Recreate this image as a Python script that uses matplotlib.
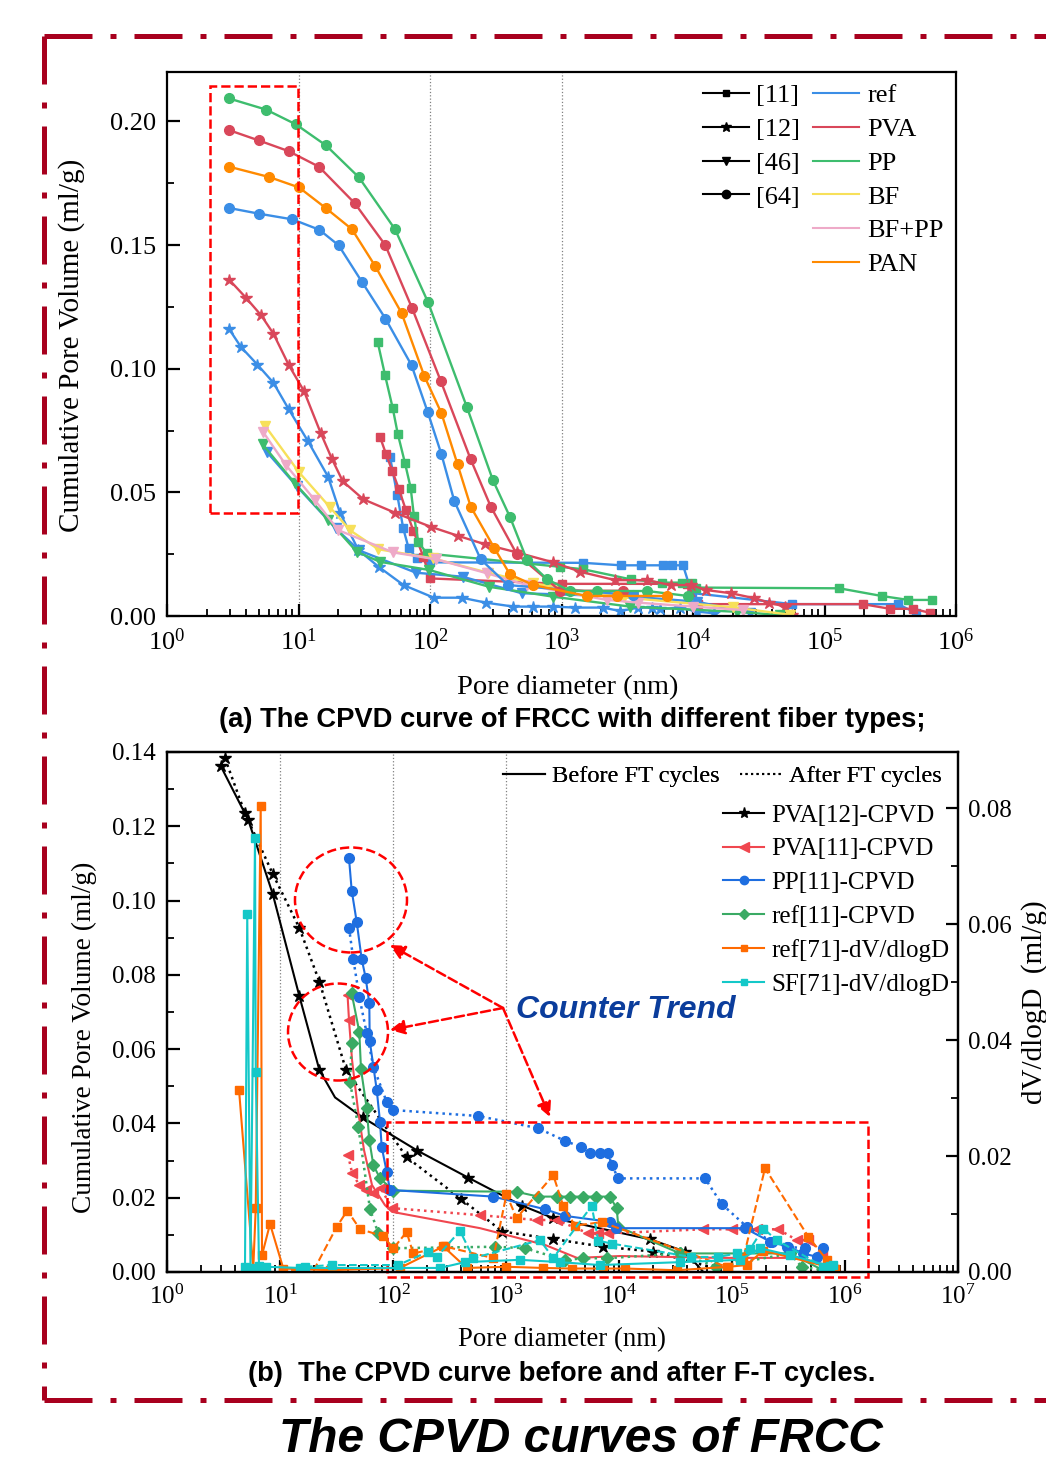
import numpy as np
import matplotlib.pyplot as plt
from matplotlib.lines import Line2D
from matplotlib.patches import Rectangle, Ellipse
from matplotlib.ticker import LogLocator, MultipleLocator, NullFormatter, FormatStrFormatter

plt.rcParams['font.family'] = ['Liberation Serif', 'DejaVu Serif']
plt.rcParams['mathtext.fontset'] = 'stix'

# ---------------- (a) data: pore diameter (nm), cumulative pore volume (ml/g)
ref11_d = [49.6, 56.4, 62.6, 68.8, 79.2, 100, 1465, 2840, 4000, 5870, 6900, 8400, 9770, 57000, 363000, 500000]
ref11_v = [0.0644, 0.0489, 0.0354, 0.0274, 0.0233, 0.0217, 0.0215, 0.0205, 0.0205, 0.0205, 0.0205, 0.0205, 0.0093, 0.0048, 0.0048, 0.0011]
pva11_d = [41.7, 46.3, 51.7, 58.1, 65.6, 74.7, 89.0, 100, 1000, 9000, 11000, 196000, 315000, 471000, 634000]
pva11_v = [0.0724, 0.0655, 0.0586, 0.0512, 0.0428, 0.0345, 0.024, 0.0152, 0.013, 0.013, 0.0048, 0.0048, 0.0029, 0.0029, 0.0013]
pp11_d = [40.0, 45.5, 52.0, 56.8, 64.5, 71.3, 75.5, 81.5, 94.4, 974, 1465, 3380, 5790, 8210, 9770, 10500, 129700, 272000, 434000, 654000]
pp11_v = [0.1108, 0.0974, 0.0842, 0.0738, 0.0619, 0.0518, 0.0404, 0.030, 0.0253, 0.0199, 0.0189, 0.0148, 0.0135, 0.0135, 0.0135, 0.0115, 0.0112, 0.0081, 0.0065, 0.0065]

ref12_d = [2.97, 3.65, 4.86, 6.43, 8.43, 11.8, 16.8, 20.7, 28.5, 40.7, 62.9, 107, 174, 266, 431, 602, 867, 1260, 2070, 2790, 3850, 4870, 5620, 7970, 10700, 14400]
ref12_v = [0.116, 0.1088, 0.1017, 0.0944, 0.0836, 0.0707, 0.0563, 0.0417, 0.0267, 0.0199, 0.0125, 0.0074, 0.0074, 0.0054, 0.0038, 0.0038, 0.0038, 0.0034, 0.0034, 0.002, 0.0034, 0.0034, 0.0028, 0.0034, 0.0018, 0.0011]
pva12_d = [2.97, 3.97, 5.2, 6.44, 8.45, 11.0, 14.7, 18.0, 21.7, 31.1, 54.5, 101, 164, 262, 458, 867, 1388, 2560, 4470, 6770, 9640, 12600, 19500, 29300, 37900, 50100, 56900]
pva12_v = [0.136, 0.1288, 0.1216, 0.1142, 0.1014, 0.091, 0.0742, 0.0634, 0.0545, 0.0472, 0.0417, 0.0361, 0.0324, 0.029, 0.0257, 0.0217, 0.0179, 0.0145, 0.0145, 0.0125, 0.0125, 0.0105, 0.0092, 0.0072, 0.0054, 0.0038, 0.0004]

ref46_d = [5.73, 9.69, 19.2, 29.0, 78.3, 177, 498, 3520, 10700, 27100]
ref46_v = [0.0664, 0.0525, 0.0354, 0.0265, 0.0175, 0.0159, 0.0092, 0.0078, 0.0058, 0.0012]
pp46_d = [5.34, 9.4, 16.9, 27.7, 41.7, 98.8, 282, 866, 3320, 21500, 45900]
pp46_v = [0.0694, 0.0536, 0.0388, 0.026, 0.0219, 0.0186, 0.0118, 0.0078, 0.0038, 0.0017, 0.0004]
bf46_d = [5.59, 10.1, 17.4, 24.6, 40.4, 105, 277, 611, 3000, 20000, 55000]
bf46_v = [0.0768, 0.0581, 0.0439, 0.0347, 0.027, 0.0233, 0.0175, 0.0132, 0.0075, 0.0035, 0.0005]
bfpp46_d = [5.40, 8.03, 13.3, 20.1, 52.6, 112, 270, 544, 2210, 3840, 10000, 24200]
bfpp46_v = [0.0743, 0.061, 0.0469, 0.0347, 0.0257, 0.0229, 0.0173, 0.0125, 0.0065, 0.0054, 0.0038, 0.0024]

ref64_d = [2.97, 5.0, 9.0, 14.4, 20.2, 30.3, 45.8, 72.4, 96.3, 122, 153, 243, 392, 3480]
ref64_v = [0.165, 0.1627, 0.1604, 0.1562, 0.1499, 0.1352, 0.1203, 0.1014, 0.0823, 0.0655, 0.0465, 0.0229, 0.0125, 0.0085]
pva64_d = [2.96, 5.0, 8.4, 14.3, 26.8, 45.7, 72.8, 121, 204, 290, 456, 975, 2930]
pva64_v = [0.1965, 0.1923, 0.188, 0.1817, 0.1669, 0.150, 0.1247, 0.0949, 0.0633, 0.0442, 0.0251, 0.0102, 0.0102]
pp64_d = [2.96, 5.66, 9.57, 16.2, 28.8, 54.2, 96.6, 191, 301, 406, 547, 776, 1161, 1862, 4467, 9160]
pp64_v = [0.2093, 0.2048, 0.1988, 0.1903, 0.1774, 0.1564, 0.1269, 0.0844, 0.0549, 0.040, 0.0226, 0.0149, 0.0101, 0.0101, 0.0101, 0.0081]
pan64_d = [2.97, 6.0, 10.1, 16.1, 25.5, 38.4, 60.8, 90.4, 122, 162, 204, 309, 406, 612, 1560, 2640, 6330]
pan64_v = [0.1817, 0.1775, 0.1733, 0.165, 0.1564, 0.1414, 0.1225, 0.0971, 0.0821, 0.0613, 0.0442, 0.0274, 0.0168, 0.0125, 0.0081, 0.0081, 0.0081]

# ---------------- (b) data, before / after freeze-thaw cycles
pva12_bef_d = [2.99, 5.24, 8.62, 14.8, 22.3, 30.7, 53.9, 164, 463, 1378, 2620, 18800, 38400, 55400]
pva12_bef_v = [0.1362, 0.1217, 0.1018, 0.0744, 0.0544, 0.047, 0.0416, 0.0327, 0.0254, 0.0179, 0.0145, 0.0088, 0.0055, 0.0001]
pva12_aft_d = [3.26, 4.90, 8.62, 14.8, 22.3, 38.4, 132, 400, 927, 2590, 7260, 20100, 86800]
pva12_aft_v = [0.1383, 0.1235, 0.1072, 0.0927, 0.0782, 0.0544, 0.0309, 0.0197, 0.0109, 0.0089, 0.0068, 0.0055, 0.0003]

pva11_bef_d = [39.6, 40.8, 43.4, 49.0, 55.4, 65.2, 84.9, 98.0, 589, 2210, 4250, 10200, 78300, 400000, 736000]
pva11_bef_v = [0.0746, 0.0678, 0.0571, 0.0436, 0.0328, 0.0234, 0.018, 0.0162, 0.0118, 0.0073, 0.0038, 0.0043, 0.0038, 0.0038, 0.0016]
pva11_aft_d = [40.0, 43.4, 50.3, 57.7, 67.0, 77.8, 98.0, 589, 1870, 2810, 5350, 6560, 8040, 55700, 99300, 166000, 257000, 374000, 473000, 622000]
pva11_aft_v = [0.0315, 0.0267, 0.0234, 0.0221, 0.0213, 0.0226, 0.0172, 0.0153, 0.014, 0.014, 0.0104, 0.0104, 0.0104, 0.0115, 0.0115, 0.0115, 0.0115, 0.0086, 0.0086, 0.0055]

pp11_bef_d = [40.8, 43.1, 47.7, 52.8, 57.3, 61.7, 62.2, 71.8, 76.7, 79.4, 87.9, 94.0, 772, 2210, 3330, 8320, 9400, 130000, 217000, 315000, 427000, 562000, 643000]
pp11_bef_v = [0.1114, 0.1027, 0.0943, 0.0843, 0.0792, 0.0723, 0.0623, 0.049, 0.0405, 0.0337, 0.027, 0.0221, 0.0203, 0.0169, 0.0151, 0.0135, 0.0118, 0.0118, 0.0082, 0.0068, 0.005, 0.0041, 0.0064]
pp11_aft_d = [40.8, 44.5, 50.3, 58.5, 67.0, 87.9, 101, 569, 1930, 3330, 4580, 5540, 6790, 8040, 8620, 9860, 57700, 81100, 135000, 224000, 305000, 443000]
pp11_aft_v = [0.0927, 0.0843, 0.0741, 0.0643, 0.0553, 0.0458, 0.0436, 0.042, 0.0387, 0.0353, 0.0337, 0.032, 0.032, 0.032, 0.0288, 0.0252, 0.0252, 0.0183, 0.0122, 0.0082, 0.0068, 0.0064]

ref11_bef_d = [43.1, 50.3, 52.1, 58.5, 61.7, 67.0, 76.7, 101, 1240, 1930, 2810, 3690, 4800, 6260, 8320, 9550, 9860, 34700, 326000, 638000]
ref11_bef_v = [0.075, 0.0647, 0.0546, 0.0441, 0.0355, 0.0288, 0.0252, 0.0219, 0.0216, 0.0203, 0.0203, 0.0203, 0.0203, 0.0203, 0.0203, 0.0171, 0.0122, 0.005, 0.005, 0.0005]
ref11_aft_d = [43.1, 41.6, 49.3, 62.6, 74.1, 101, 800, 1470, 3330, 4830, 7780, 34700, 72800, 326000, 414000, 638000]
ref11_aft_v = [0.0616, 0.0512, 0.0391, 0.0169, 0.0104, 0.0064, 0.0068, 0.0064, 0.0032, 0.0037, 0.0037, 0.005, 0.0014, 0.005, 0.0014, 0.0005]

# dV/dlogD curves (right axis)
ref71_bef_d = [4.34, 5.80, 6.10, 6.75, 6.93, 8.16, 10.7, 27.7, 115, 279, 449, 1010, 2120, 3810, 7260, 11300, 32400, 92700, 135000, 189000, 817000]
ref71_bef_v = [0.0314, 0.0006, 0.011, 0.0804, 0.0029, 0.0083, 0.0006, 0.0003, 0.0007, 0.0044, 0.0007, 0.0009, 0.0007, 0.0006, 0.0006, 0.0006, 0.0003, 0.0009, 0.0012, 0.0037, 0.0006]
ref71_aft_d = [10.0, 20.0, 31.8, 39.4, 51.0, 81.1, 101, 132, 151, 288, 772, 1010, 1240, 2620, 3210, 4080, 7030, 89800, 126000, 196000, 473000, 689000, 817000]
ref71_aft_v = [0.0003, 0.0004, 0.0078, 0.0106, 0.0074, 0.0062, 0.0041, 0.0069, 0.0032, 0.0044, 0.0024, 0.0134, 0.0093, 0.0167, 0.0114, 0.008, 0.0086, 0.0009, 0.0024, 0.0179, 0.0061, 0.0021, 0.0006]
sf71_bef_d = [4.90, 5.13, 5.48, 6.01, 6.10, 6.52, 7.52, 15.0, 261, 434, 1330, 3000, 6790, 34700, 118000, 177000, 326000, 736000]
sf71_bef_v = [0.0009, 0.0618, 0.0007, 0.0749, 0.0345, 0.001, 0.0009, 0.0007, 0.0007, 0.0017, 0.0021, 0.0017, 0.0012, 0.0017, 0.0021, 0.0041, 0.0029, 0.001]
sf71_aft_d = [16.6, 28.7, 111, 205, 244, 392, 514, 2000, 2620, 5730, 6560, 8610, 43800, 75700, 110000, 144000, 189000, 249000, 643000, 787000]
sf71_aft_v = [0.0009, 0.0012, 0.0012, 0.0035, 0.0026, 0.0071, 0.0024, 0.0055, 0.0024, 0.0114, 0.0054, 0.0049, 0.0026, 0.0026, 0.0032, 0.0039, 0.0075, 0.0055, 0.0009, 0.0012]

c_ref, c_pva, c_pp = '#3b8ee6', '#d9475a', '#3ebd6e'
c_bf, c_bfpp, c_pan = '#f7e05a', '#eeaac8', '#ff8a00'
b_pva, b_pp, b_ref = '#f0474f', '#1e6ee0', '#3aaa64'
b_or, b_cy = '#ff6a00', '#14c8c8'
frame_red = '#a8001e'

fig = plt.figure(figsize=(10.46, 14.6), dpi=100)
ax1 = fig.add_axes([167/1046, 1-616/1460, 789/1046, 544/1460])
ax2 = fig.add_axes([167/1046, 1-1272/1460, 791/1046, 520/1460])


def log_axis(ax, hi, fs):
    ax.set_xscale('log')
    ax.set_xlim(1, hi)
    ax.xaxis.set_major_locator(LogLocator(base=10, numticks=20))
    ax.xaxis.set_minor_locator(LogLocator(base=10, subs=np.arange(2, 10), numticks=100))
    ax.xaxis.set_minor_formatter(NullFormatter())
    ax.tick_params(which='both', direction='in', labelsize=fs, top=False)
    ax.tick_params(which='major', length=9, width=1.6)
    ax.tick_params(which='minor', length=5, width=1.3)
    ax.tick_params(axis='x', pad=9)
    ax.tick_params(axis='y', pad=8)
    for s in ax.spines.values():
        s.set_linewidth(1.6)
    for v in [10, 100, 1000]:
        ax.axvline(v, color='grey', ls=':', lw=0.9, zorder=0)


# ---------------- panel (a)
log_axis(ax1, 1e6, 19)
ax1.set_ylim(0, 0.22)
ax1.yaxis.set_major_locator(MultipleLocator(0.05))
ax1.yaxis.set_minor_locator(MultipleLocator(0.025))
ax1.yaxis.set_major_formatter(FormatStrFormatter('%.2f'))

top_series = [
    (ref11_d, ref11_v, c_ref, 's', 6), (pva11_d, pva11_v, c_pva, 's', 6), (pp11_d, pp11_v, c_pp, 's', 6),
    (ref12_d, ref12_v, c_ref, '*', 9), (pva12_d, pva12_v, c_pva, '*', 9),
    (ref46_d, ref46_v, c_ref, 'v', 7), (pp46_d, pp46_v, c_pp, 'v', 7),
    (bf46_d, bf46_v, c_bf, 'v', 7), (bfpp46_d, bfpp46_v, c_bfpp, 'v', 7),
    (ref64_d, ref64_v, c_ref, 'o', 7), (pva64_d, pva64_v, c_pva, 'o', 7),
    (pp64_d, pp64_v, c_pp, 'o', 7), (pan64_d, pan64_v, c_pan, 'o', 7),
]
for d, v, c, m, ms in top_series:
    ax1.plot(d, v, color=c, marker=m, ms=ms, mec=c, lw=1.7)

ax1.add_patch(Rectangle((0.0545, 0.1893), 0.1115, 0.785, transform=ax1.transAxes,
                        fill=False, ec='red', ls='--', lw=1.8, zorder=5))

src_handles = [Line2D([], [], color='k', marker=m, ms=ms, lw=1.5) for m, ms in
               [('s', 5), ('*', 7), ('v', 6), ('o', 6)]]
leg1 = ax1.legend(src_handles, ['[11]', '[12]', '[46]', '[64]'], loc='upper left',
                  bbox_to_anchor=(0.679, 0.978), frameon=False, fontsize=19, borderpad=0,
                  borderaxespad=0, handlelength=1.75, handletextpad=0.27, labelspacing=0.39)
ax1.add_artist(leg1)
fib_handles = [Line2D([], [], color=c, lw=1.5) for c in [c_ref, c_pva, c_pp, c_bf, c_bfpp, c_pan]]
ax1.legend(fib_handles, ['ref', 'PVA', 'PP', 'BF', 'BF+PP', 'PAN'], loc='upper left',
           bbox_to_anchor=(0.819, 0.978), frameon=False, fontsize=19, borderpad=0,
           borderaxespad=0, handlelength=1.75, handletextpad=0.3, labelspacing=0.39)

# ---------------- panel (b)
log_axis(ax2, 1e7, 18)
ax2.set_ylim(0, 0.14)
ax2.yaxis.set_major_locator(MultipleLocator(0.02))
ax2.yaxis.set_minor_locator(MultipleLocator(0.01))
ax2.yaxis.set_major_formatter(FormatStrFormatter('%.2f'))
ax2r = ax2.twinx()
ax2r.set_ylim(0, 0.0897)
ax2r.yaxis.set_major_locator(MultipleLocator(0.02))
ax2r.yaxis.set_minor_locator(MultipleLocator(0.01))
ax2r.yaxis.set_major_formatter(FormatStrFormatter('%.2f'))
ax2r.tick_params(which='both', direction='in', labelsize=18, pad=7)
ax2r.tick_params(which='major', length=9, width=1.6)
ax2r.tick_params(which='minor', length=5, width=1.3)
for s in ax2r.spines.values():
    s.set_linewidth(1.6)

ax2.plot(pva12_bef_d, pva12_bef_v, color='k', marker='*', ms=9, lw=1.5, markevery=[0, 1, 2, 3, 4, 6, 7, 8, 9, 10, 11, 12])
ax2.plot(pva12_aft_d, pva12_aft_v, color='k', marker='*', ms=9, lw=1.8, ls=':', markevery=list(range(12)))
ax2.plot(pva11_bef_d, pva11_bef_v, color=b_pva, marker='<', ms=7, lw=1.5, markevery=[0, 1])
ax2.plot(pva11_aft_d, pva11_aft_v, color=b_pva, marker='<', ms=7, lw=1.8, ls=':')
ax2.plot(ref11_bef_d, ref11_bef_v, color=b_ref, marker='D', ms=6, lw=1.5)
ax2.plot(ref11_aft_d, ref11_aft_v, color=b_ref, marker='D', ms=6, lw=1.8, ls=':')
ax2.plot(pp11_bef_d, pp11_bef_v, color=b_pp, marker='o', ms=7, lw=1.5)
ax2.plot(pp11_aft_d, pp11_aft_v, color=b_pp, marker='o', ms=7, lw=1.8, ls=':')
ax2r.plot(ref71_bef_d, ref71_bef_v, color=b_or, marker='s', ms=6, lw=1.5)
ax2r.plot(ref71_aft_d, ref71_aft_v, color=b_or, marker='s', ms=6, lw=1.5, ls='--', markevery=list(range(2, 23)))
ax2r.plot(sf71_bef_d, sf71_bef_v, color=b_cy, marker='s', ms=6, lw=1.5)
ax2r.plot(sf71_aft_d, sf71_aft_v, color=b_cy, marker='s', ms=6, lw=1.5, ls='--')

# annotations: circles, box, arrows, text
for cx, cy, w, h in [(0.2326, 0.7154, 0.1416, 0.2019), (0.2162, 0.4615, 0.1264, 0.1865)]:
    ax2.add_patch(Ellipse((cx, cy), w, h, transform=ax2.transAxes, fill=False,
                          ec='red', ls='--', lw=1.8, zorder=6))
ax2.add_patch(Rectangle((0.2781, -0.0096), 0.6081, 0.2981, transform=ax2.transAxes,
                        fill=False, ec='red', ls='--', lw=1.8, clip_on=False, zorder=6))
hub = (0.4248, 0.5077)
for tgt in [(0.2819, 0.6288), (0.2819, 0.4654), (0.4842, 0.2981)]:
    ax2.annotate('', xy=tgt, xytext=hub, xycoords='axes fraction', textcoords='axes fraction',
                 arrowprops=dict(arrowstyle='-|>', color='red', lw=1.8, ls='--',
                                 mutation_scale=22, shrinkA=0, shrinkB=0), zorder=7)
ax2.text(0.580, 0.504, 'Counter Trend', transform=ax2.transAxes, ha='center', va='center',
         family='Liberation Sans', fontsize=23, weight='bold', style='italic', color='#0b3d9c')

ft_handles = [Line2D([], [], color='k', lw=1.5), Line2D([], [], color='k', lw=1.5, ls=':')]
leg2 = ax2.legend(ft_handles, ['Before FT cycles', 'After FT cycles'], loc='upper left', ncol=2,
                  bbox_to_anchor=(0.425, 0.975), frameon=False, fontsize=17.6, borderpad=0,
                  borderaxespad=0, handlelength=1.7, handletextpad=0.3, columnspacing=0.85)
ax2.add_artist(leg2)
ser_handles = [Line2D([], [], color=c, marker=m, ms=ms, lw=1.5) for c, m, ms in
               [('k', '*', 8), (b_pva, '<', 7), (b_pp, 'o', 6), (b_ref, 'D', 5), (b_or, 's', 5), (b_cy, 's', 5)]]
ser_labels = ['PVA[12]-CPVD', 'PVA[11]-CPVD', 'PP[11]-CPVD', 'ref[11]-CPVD',
              'ref[71]-dV/dlogD', 'SF[71]-dV/dlogD']
ax2r.legend(ser_handles, ser_labels, loc='upper left', bbox_to_anchor=(0.703, 0.90), frameon=False,
            fontsize=18, borderpad=0, borderaxespad=0, handlelength=1.65, handletextpad=0.28,
            labelspacing=0.45)

# ---------------- labels and titles
fig.text(0.0688, 0.7637, 'Cumulative Pore Volume (ml/g)', rotation=90, ha='center', va='center', fontsize=21)
fig.text(0.543, 0.5288, 'Pore diameter (nm)', ha='center', va='center', fontsize=20.5)
fig.text(0.547, 0.5068, '(a) The CPVD curve of FRCC with different fiber types;', ha='center', va='center',
         family='Liberation Sans', weight='bold', fontsize=19.7)
fig.text(0.0803, 0.2897, 'Cumulative Pore Volume (ml/g)', rotation=90, ha='center', va='center', fontsize=19.7)
fig.text(0.9895, 0.3137, 'dV/dlogD  (ml/g)', rotation=90, ha='center', va='center', fontsize=21)
fig.text(0.537, 0.0822, 'Pore diameter (nm)', ha='center', va='center', fontsize=19.3)
fig.text(0.537, 0.0589, '(b)  The CPVD curve before and after F-T cycles.', ha='center', va='center',
         family='Liberation Sans', weight='bold', fontsize=19.7)
fig.text(0.555, 0.0137, 'The CPVD curves of FRCC', ha='center', va='center',
         family='Liberation Sans', weight='bold', style='italic', fontsize=34.5)

# dash-dot frame
dd = (0, (9.6, 3.6, 1.2, 3.6))
for xs, ys in [([0.0421, 0.0421], [0.9753, 0.0411]), ([0.0421, 1.0], [0.9753, 0.9753]),
               ([0.0421, 1.0], [0.0411, 0.0411])]:
    fig.add_artist(Line2D(xs, ys, transform=fig.transFigure, color=frame_red, lw=3.6,
                          ls=dd, solid_capstyle='butt', dash_capstyle='butt'))

fig.savefig('out.png', dpi=100)
